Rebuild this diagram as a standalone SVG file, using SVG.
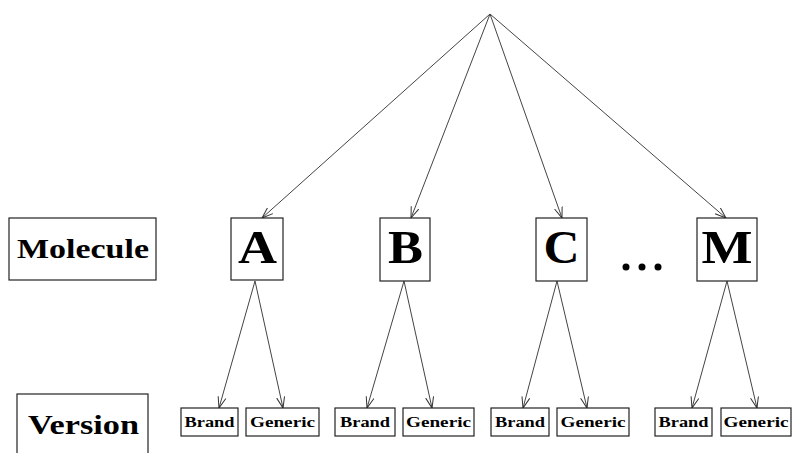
<svg xmlns="http://www.w3.org/2000/svg" width="796" height="453" viewBox="0 0 796 453">
<defs>
<marker id="arr" markerUnits="userSpaceOnUse" markerWidth="14" markerHeight="12" refX="11" refY="5" orient="auto" viewBox="0 0 14 10">
<path d="M0,1 L11,5 L0,9" fill="none" stroke="#333" stroke-width="1"/>
</marker>
</defs>
<style>
.box{fill:#fff;stroke:#222;stroke-width:1.2}
.t{font-family:"Liberation Serif","DejaVu Serif",serif;font-weight:bold;fill:#000;text-anchor:middle}
.big{font-size:46px}
.lab{font-size:27px}
.sm{font-size:15px}
.e{stroke:#444;stroke-width:1;fill:none;marker-end:url(#arr)}
</style>
<rect width="796" height="453" fill="#fff"/>
<g id="connectors">
<line class="e" x1="490" y1="14" x2="262" y2="218"/>
<line class="e" x1="490" y1="14" x2="411" y2="218"/>
<line class="e" x1="490" y1="14" x2="562" y2="218"/>
<line class="e" x1="490" y1="14" x2="726" y2="218"/>
<line class="e" x1="255" y1="281" x2="219" y2="408"/>
<line class="e" x1="255" y1="281" x2="283" y2="408"/>
<line class="e" x1="404" y1="281" x2="367" y2="408"/>
<line class="e" x1="404" y1="281" x2="432" y2="408"/>
<line class="e" x1="557" y1="281" x2="523" y2="408"/>
<line class="e" x1="557" y1="281" x2="587" y2="408"/>
<line class="e" x1="727" y1="281" x2="692" y2="408"/>
<line class="e" x1="727" y1="281" x2="757" y2="408"/>
</g>
<g id="label-molecule"><rect class="box" x="9" y="218" width="147" height="62"/><text class="t lab" x="83" y="258" textLength="132" lengthAdjust="spacingAndGlyphs">Molecule</text></g>
<g id="label-version"><rect class="box" x="17" y="394" width="131" height="80"/><text class="t lab" x="83.5" y="434" textLength="111" lengthAdjust="spacingAndGlyphs">Version</text></g>
<g id="node-A"><rect class="box" x="231" y="218" width="52" height="62"/><text class="t big" x="257.5" y="263" textLength="39" lengthAdjust="spacingAndGlyphs">A</text></g>
<g id="node-B"><rect class="box" x="380" y="218" width="50" height="63"/><text class="t big" x="405.5" y="263" textLength="35" lengthAdjust="spacingAndGlyphs">B</text></g>
<g id="node-C"><rect class="box" x="536" y="218" width="51" height="63"/><text class="t big" x="561.5" y="263" textLength="36" lengthAdjust="spacingAndGlyphs">C</text></g>
<g id="dots"><circle cx="626" cy="267" r="3.5"/><circle cx="642" cy="267" r="3.5"/><circle cx="658" cy="267" r="3.5"/></g>
<g id="node-M"><rect class="box" x="697" y="218" width="60" height="63"/><text class="t big" x="727" y="263" textLength="51" lengthAdjust="spacingAndGlyphs">M</text></g>
<g id="A-brand"><rect class="box" x="181" y="408" width="57" height="28"/><text class="t sm" x="209.5" y="427" textLength="50" lengthAdjust="spacingAndGlyphs">Brand</text></g>
<g id="A-generic"><rect class="box" x="246" y="408" width="73" height="28"/><text class="t sm" x="282.5" y="427" textLength="65" lengthAdjust="spacingAndGlyphs">Generic</text></g>
<g id="B-brand"><rect class="box" x="335" y="408" width="60" height="28"/><text class="t sm" x="365" y="427" textLength="50" lengthAdjust="spacingAndGlyphs">Brand</text></g>
<g id="B-generic"><rect class="box" x="403" y="408" width="71" height="28"/><text class="t sm" x="438.5" y="427" textLength="65" lengthAdjust="spacingAndGlyphs">Generic</text></g>
<g id="C-brand"><rect class="box" x="491" y="408" width="58" height="28"/><text class="t sm" x="520" y="427" textLength="50" lengthAdjust="spacingAndGlyphs">Brand</text></g>
<g id="C-generic"><rect class="box" x="557" y="408" width="72" height="28"/><text class="t sm" x="593" y="427" textLength="65" lengthAdjust="spacingAndGlyphs">Generic</text></g>
<g id="M-brand"><rect class="box" x="655" y="408" width="57" height="28"/><text class="t sm" x="683.5" y="427" textLength="50" lengthAdjust="spacingAndGlyphs">Brand</text></g>
<g id="M-generic"><rect class="box" x="721" y="408" width="70" height="28"/><text class="t sm" x="756" y="427" textLength="65" lengthAdjust="spacingAndGlyphs">Generic</text></g>
</svg>
